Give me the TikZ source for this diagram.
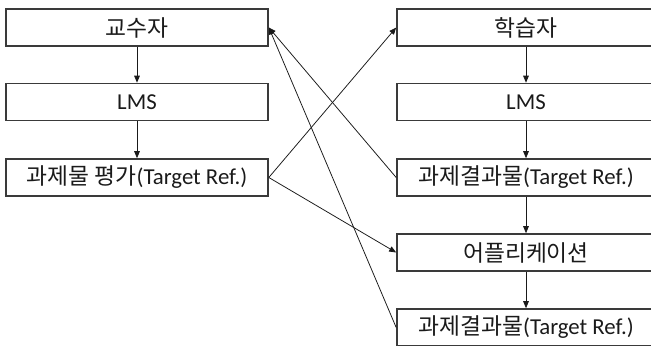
\documentclass[tikz,border=0pt]{standalone}
\usepackage{fontspec}
\setmainfont{Carlito}
\newfontfamily\kr{Noto Sans CJK KR}
\usetikzlibrary{arrows.meta}
\definecolor{Edge}{HTML}{3A3A3A}
\definecolor{Ink}{HTML}{1A1A1A}

\begin{document}
\begin{tikzpicture}[x=0.025cm,y=-0.025cm,
  box/.style={draw=Edge,line width=1.1pt,minimum height=0.925cm,inner sep=0pt,text=Ink,font=\fontsize{16.2}{18}\selectfont},
  leftbox/.style={box,minimum width=6.55cm},
  rightbox/.style={box,minimum width=6.45cm},
  link/.style={-{Triangle[length=5pt,width=4pt]},Ink,line width=0.55pt}]
\useasboundingbox (0,0) rectangle (651,345);
% left column
\node[leftbox] (prof) at (137,27.5) {\kr 교수자};
\node[leftbox] (lmsL) at (137,102) {LMS};
\node[leftbox] (evalL) at (137,177.5) {{\kr 과제물 평가}(Target Ref.)};
% right column
\node[rightbox] (learner) at (526,27.5) {\kr 학습자};
\node[rightbox] (lmsR) at (526,102) {LMS};
\node[rightbox] (resultA) at (526,177.5) {{\kr 과제결과물}(Target Ref.)};
\node[rightbox] (app) at (526,252.5) {\kr 어플리케이션};
\node[rightbox] (resultB) at (526,327.5) {{\kr 과제결과물}(Target Ref.)};
% vertical flow
\draw[link] (prof) -- (lmsL);
\draw[link] (lmsL) -- (evalL);
\draw[link] (learner) -- (lmsR);
\draw[link] (lmsR) -- (resultA);
\draw[link] (resultA) -- (app);
\draw[link] (app) -- (resultB);
% cross links
\draw[link] (evalL.east) -- (learner.west);
\draw[link] (evalL.east) -- (app.west);
\draw[link] (resultA.west) -- (prof.east);
\draw[link] (resultB.west) -- (prof.east);
\end{tikzpicture}
\end{document}
